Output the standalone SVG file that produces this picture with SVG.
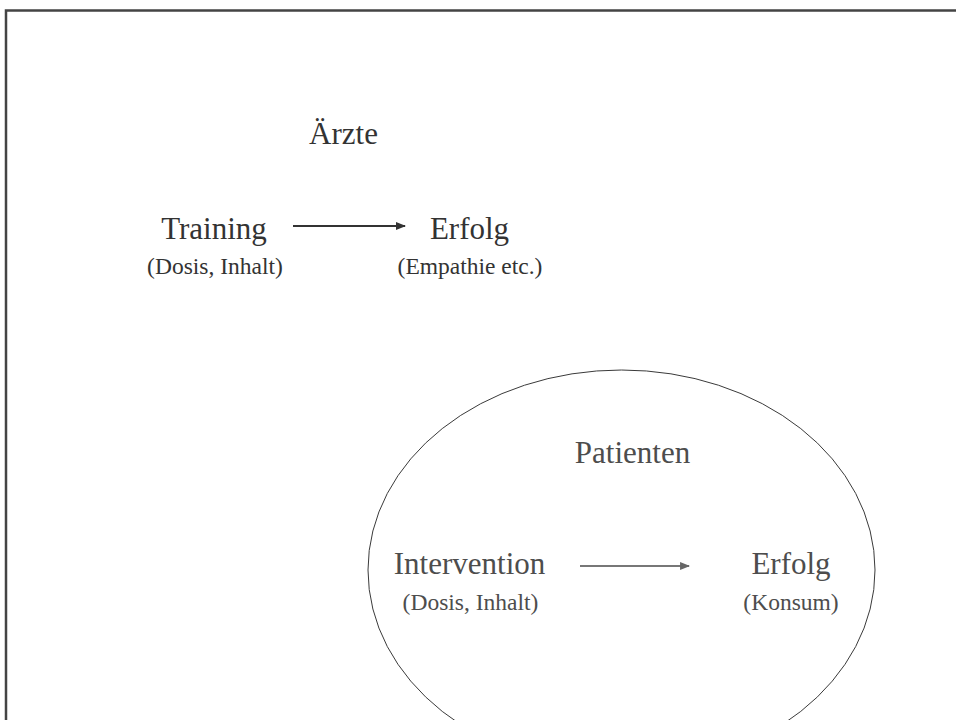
<svg xmlns="http://www.w3.org/2000/svg" width="956" height="720" viewBox="0 0 956 720">
  <style>
    .t { font-family: "Liberation Serif", "Times New Roman", serif; text-anchor: middle; }
    .main { font-size: 31px; }
    .sub { font-size: 23.5px; }
    .dark { fill: #333333; }
    .grey { fill: #4d4d4d; }
  </style>
  <defs>
    <marker id="headDark" viewBox="0 0 10 10" refX="9" refY="5" markerWidth="5" markerHeight="5" orient="auto" markerUnits="strokeWidth">
      <path d="M0,1 L10,5 L0,9 Z" fill="#333333"/>
    </marker>
    <marker id="headGrey" viewBox="0 0 10 10" refX="9" refY="5" markerWidth="5.5" markerHeight="5.5" orient="auto" markerUnits="strokeWidth">
      <path d="M0,1 L10,5 L0,9 Z" fill="#666666"/>
    </marker>
  </defs>

  <rect x="0" y="0" width="956" height="720" fill="#ffffff"/>
  <!-- outer frame, open to the right and bottom edges -->
  <path d="M6,722 L6,10.5 L958,10.5" fill="none" stroke="#444444" stroke-width="2.5"/>

  <!-- patient area -->
  <ellipse id="patient-area" cx="621.5" cy="570" rx="253.5" ry="200" fill="none" stroke="#3a3a3a" stroke-width="1"/>

  <g id="aerzte">
    <text class="t main dark" x="343.5" y="144">Ärzte</text>
  </g>
  <g id="training">
    <text class="t main dark" x="214" y="239">Training</text>
    <text class="t sub dark" x="215" y="274">(Dosis, Inhalt)</text>
  </g>
  <g id="erfolg-aerzte">
    <text class="t main dark" x="469.5" y="239">Erfolg</text>
    <text class="t sub dark" x="470" y="274">(Empathie etc.)</text>
  </g>

  <g id="patienten">
    <text class="t main grey" x="632.5" y="463">Patienten</text>
  </g>
  <g id="intervention">
    <text class="t main grey" x="469.5" y="574">Intervention</text>
    <text class="t sub grey" x="470.5" y="610">(Dosis, Inhalt)</text>
  </g>
  <g id="erfolg-patienten">
    <text class="t main grey" x="791" y="574">Erfolg</text>
    <text class="t sub grey" x="791" y="610">(Konsum)</text>
  </g>

  <g id="connectors">
    <line x1="293" y1="226" x2="405" y2="226" stroke="#333333" stroke-width="2" marker-end="url(#headDark)"/>
    <line x1="580" y1="566" x2="689" y2="566" stroke="#777777" stroke-width="1.8" marker-end="url(#headGrey)"/>
  </g>
</svg>
